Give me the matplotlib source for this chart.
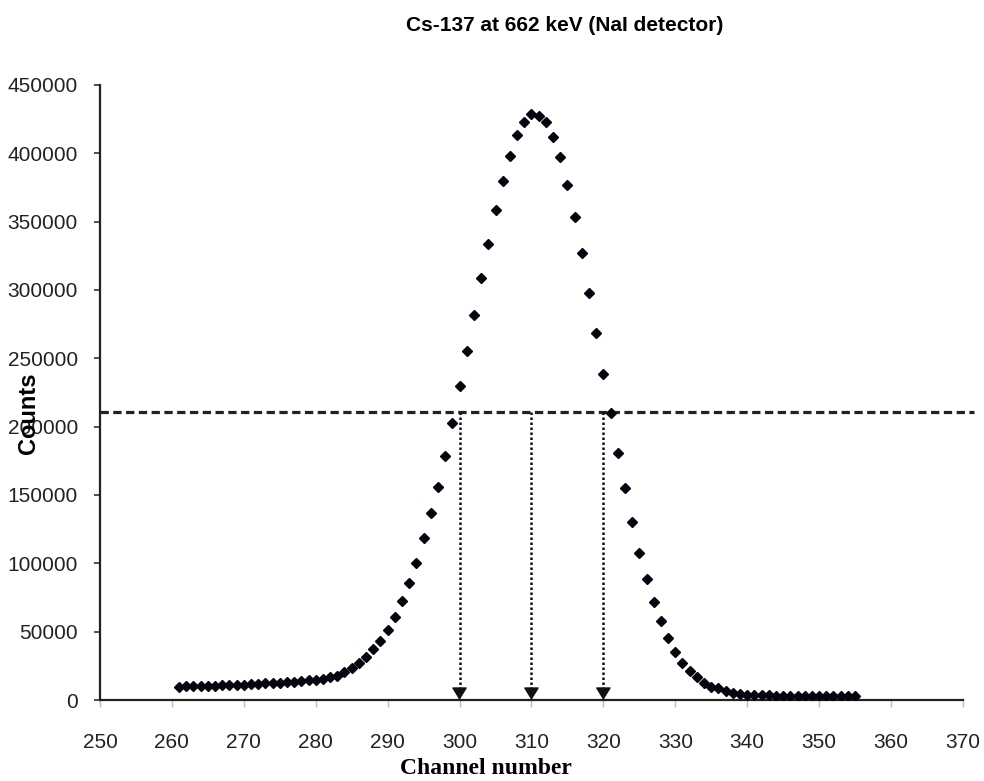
import numpy as np
import matplotlib
matplotlib.use("Agg")
import matplotlib.pyplot as plt

# channel numbers and counts
channels = np.arange(261, 356)
counts = [
    9800, 9900, 10000, 10200, 10300, 10500, 10700, 10900, 11100, 11300,   # 261-270
    11600, 11800, 12100, 12400, 12700, 13000, 13400, 13800, 14300, 14900,  # 271-280
    15600, 16500, 17600, 20700, 23200, 26800, 31700, 37100, 43500, 51500,  # 281-290
    60500, 72400, 85800, 100500, 118300, 136600, 156100, 178800, 203000, 229500,  # 291-300
    255400, 281700, 308500, 333900, 358500, 379700, 398300, 413400, 423200, 428800,  # 301-310
    427500, 423200, 412200, 397600, 376800, 353600, 326800, 298000, 268800, 238800,  # 311-320
    210200, 181000, 155300, 130500, 107800, 88300, 71900, 57500, 45100, 35300,  # 321-330
    27300, 21400, 16600, 12700, 9800, 8500, 6600, 5400, 4400, 3900,  # 331-340
    3700, 3500, 3400, 3300, 3200, 3200, 3100, 3100, 3000, 3000,  # 341-350
    3000, 3000, 3100, 3100, 3200,  # 351-355
]

half_max = 211000
fwhm_marks = [300, 310, 320]

xticks = list(range(250, 371, 10))
yticks = list(range(0, 450001, 50000))

plt.rcParams['font.family'] = ['Liberation Sans', 'DejaVu Sans']

fig = plt.figure(figsize=(9.84, 7.81), dpi=100)
ax = fig.add_axes([0.1016, 0.1037, 0.877, 0.7875])

ax.plot(channels, counts, linestyle='none', marker='D', markersize=5.6,
        color='#05050f', zorder=4)

# half maximum line
ax.plot([250, 371.5], [half_max, half_max], color='#222222', lw=2.3,
        linestyle=(0, (2.6, 1.4)), clip_on=False, zorder=3)

# dotted drop lines with arrow heads
for xm in fwhm_marks:
    ax.plot([xm, xm], [half_max, 7000], color='#111111', lw=1.8,
            linestyle=(0, (1, 1)), zorder=3)
    ax.annotate('', xy=(xm, 0), xytext=(xm, 8000),
                arrowprops=dict(arrowstyle='-|>,head_length=0.55,head_width=0.34',
                                color='#111111', mutation_scale=14,
                                shrinkA=0, shrinkB=0, lw=1))

ax.set_xlim(250, 370)
ax.set_ylim(0, 450000)
ax.set_xticks(xticks)
ax.set_yticks(yticks)
ax.set_xticklabels([str(t) for t in xticks], fontsize=15, color='#222222')
ax.set_yticklabels([str(t) for t in yticks], fontsize=15, color='#222222')

for s in ['top', 'right']:
    ax.spines[s].set_visible(False)
ax.spines['left'].set_color('#222222')
ax.spines['left'].set_linewidth(1.6)
ax.spines['bottom'].set_color('#222222')
ax.spines['bottom'].set_linewidth(1.6)

ax.tick_params(axis='x', direction='out', length=5, width=1, color='#bbbbbb', pad=19)
ax.tick_params(axis='y', direction='out', length=4, width=1.2, color='#333333', pad=12)

fig.text(0.574, 0.967, 'Cs-137 at 662 keV (NaI detector)', ha='center', va='center',
         fontsize=15, fontweight='bold')
fig.text(0.029, 1 - 413 / 781, 'Counts', rotation=90, ha='center', va='center',
         fontsize=17, fontweight='bold')
fig.text(0.494, 1 - 768 / 781, 'Channel number', ha='center', va='center',
         fontsize=17, fontweight='bold', family=['Liberation Serif', 'DejaVu Serif'])

fig.savefig('out.png', dpi=100)
